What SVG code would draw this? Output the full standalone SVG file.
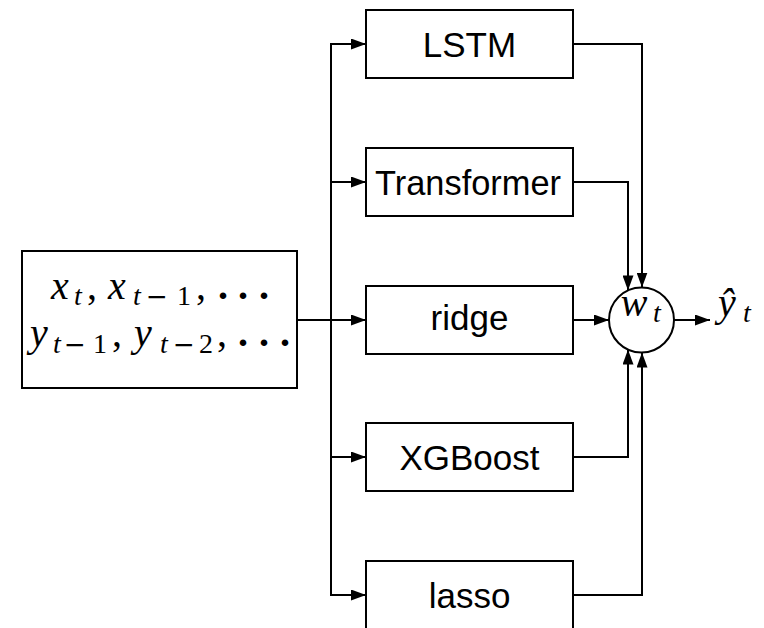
<svg xmlns="http://www.w3.org/2000/svg" width="764" height="628" viewBox="0 0 764 628">
<style>
.box{fill:#fff;stroke:#000;stroke-width:2}
.ln{fill:none;stroke:#000;stroke-width:2}
.arr{marker-end:url(#ah)}
.lbl{font-family:"Liberation Sans","DejaVu Sans",sans-serif;font-size:35px;text-anchor:middle;fill:#000}
.m{font-family:"Liberation Serif","DejaVu Serif",serif;font-style:italic;font-size:40px;text-anchor:middle;fill:#000}
.s{font-size:28px}
.r{font-style:normal}
.mn{font-family:"DejaVu Sans",sans-serif;font-style:normal;font-size:25px}
.d{font-style:normal;font-weight:bold}
</style>
<defs>
<marker id="ah" markerUnits="userSpaceOnUse" markerWidth="15" markerHeight="11" refX="15" refY="5.5" orient="auto">
<path d="M0,0 L15,5.5 L0,11 Z" fill="#000"/>
</marker>
</defs>
<g id="connectors">
<path class="ln" d="M297,320 H331"/>
<path class="ln" d="M366,44 H331 V595 H366"/>
<path class="ln arr" d="M331,44 H366"/>
<path class="ln arr" d="M331,182 H366"/>
<path class="ln arr" d="M331,320 H366"/>
<path class="ln arr" d="M331,457 H366"/>
<path class="ln arr" d="M331,595 H366"/>
<path class="ln arr" d="M573,44 H642 V287.5"/>
<path class="ln arr" d="M573,182 H628 V290.4"/>
<path class="ln arr" d="M573,320 H609"/>
<path class="ln arr" d="M573,457 H628 V349.6"/>
<path class="ln arr" d="M573,595 H642 V352.5"/>
<path class="ln arr" d="M674,320 H710"/>
</g>
<g id="input">
<rect class="box" x="22" y="251" width="275" height="137"/>
<text class="m">
<tspan x="60" y="299">x</tspan><tspan class="s" x="78" y="305">t</tspan><tspan class="r" x="92" y="299">,</tspan><tspan x="117" y="299">x</tspan><tspan class="s" x="137" y="305">t</tspan><tspan class="mn" x="157" y="305" textLength="22" lengthAdjust="spacingAndGlyphs">−</tspan><tspan class="s r" x="184" y="305">1</tspan><tspan class="r" x="201" y="299">,</tspan><tspan class="d" x="223" y="299">.</tspan><tspan class="d" x="243" y="299">.</tspan><tspan class="d" x="264" y="299">.</tspan>
</text>
<text class="m">
<tspan x="39" y="346">y</tspan><tspan class="s" x="57" y="353">t</tspan><tspan class="mn" x="75" y="353" textLength="22" lengthAdjust="spacingAndGlyphs">−</tspan><tspan class="s r" x="100" y="353">1</tspan><tspan class="r" x="117" y="346">,</tspan><tspan x="143" y="346">y</tspan><tspan class="s" x="164" y="353">t</tspan><tspan class="mn" x="184" y="353" textLength="22" lengthAdjust="spacingAndGlyphs">−</tspan><tspan class="s r" x="206" y="353">2</tspan><tspan class="r" x="222" y="346">,</tspan><tspan class="d" x="243" y="346">.</tspan><tspan class="d" x="264" y="346">.</tspan><tspan class="d" x="285" y="346">.</tspan>
</text>
</g>
<g id="lstm">
<rect class="box" x="366" y="10" width="207" height="68"/>
<text class="lbl" x="469.5" y="57">LSTM</text>
</g>
<g id="transformer">
<rect class="box" x="366" y="148" width="207" height="68"/>
<text class="lbl" x="468" y="195" textLength="186" lengthAdjust="spacingAndGlyphs">Transformer</text>
</g>
<g id="ridge">
<rect class="box" x="366" y="286" width="207" height="68"/>
<text class="lbl" x="469.5" y="330">ridge</text>
</g>
<g id="xgboost">
<rect class="box" x="366" y="423" width="207" height="68"/>
<text class="lbl" x="469.5" y="470">XGBoost</text>
</g>
<g id="lasso">
<rect class="box" x="366" y="561" width="207" height="68"/>
<text class="lbl" x="469.5" y="608">lasso</text>
</g>
<g id="combiner">
<circle cx="641.5" cy="320" r="32.5" fill="#fff" stroke="#000" stroke-width="2"/>
<text class="m"><tspan x="634" y="316">w</tspan><tspan class="s" x="657" y="322">t</tspan></text>
</g>
<g id="output">
<text class="m"><tspan x="727" y="316">ŷ</tspan><tspan class="s" x="747" y="322">t</tspan></text>
</g>
</svg>
